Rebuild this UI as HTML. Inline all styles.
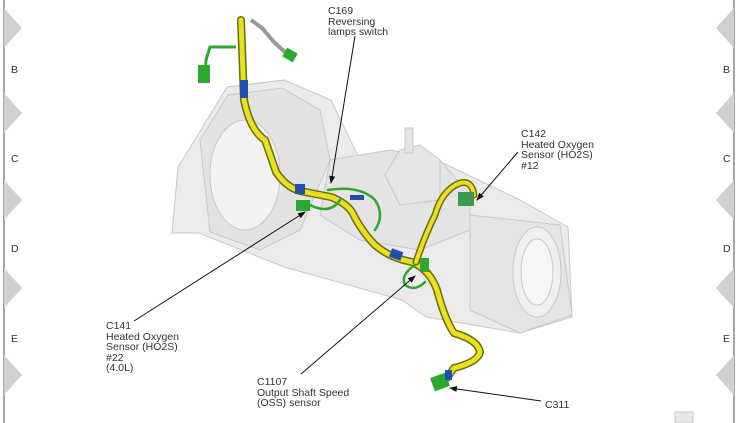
<!DOCTYPE html>
<html><head><meta charset="utf-8"><style>
html,body{margin:0;padding:0;background:#fff;}
svg{display:block;}
text{font-family:"Liberation Sans",Arial,sans-serif;font-size:10.5px;fill:#333;}
</style></head><body>
<svg width="738" height="423" viewBox="0 0 738 423" xmlns="http://www.w3.org/2000/svg">
<defs><marker id="a" markerWidth="8" markerHeight="6" refX="7" refY="3" orient="auto" markerUnits="userSpaceOnUse"><polygon points="0,0 8,3 0,6" fill="#111"/></marker></defs>
<rect width="738" height="423" fill="#fff"/>
<line x1="4" y1="0" x2="4" y2="423" stroke="#888" stroke-width="1.5"/>
<line x1="734" y1="0" x2="734" y2="423" stroke="#888" stroke-width="1.5"/>
<g fill="#d0d0d0">
<polygon points="4,8 22,28 4,48"/><polygon points="4,93 22,113 4,133"/><polygon points="4,180 22,200 4,220"/><polygon points="4,268 22,288 4,308"/><polygon points="4,355 22,375 4,395"/>
<polygon points="734,8 716,28 734,48"/><polygon points="734,93 716,113 734,133"/><polygon points="734,180 716,200 734,220"/><polygon points="734,268 716,288 734,308"/><polygon points="734,355 716,375 734,395"/>
</g>
<g style="font-size:11px"><text x="11" y="73">B</text><text x="11" y="162">C</text><text x="11" y="252">D</text><text x="11" y="342">E</text>
<text x="723" y="73">B</text><text x="723" y="162">C</text><text x="723" y="252">D</text><text x="723" y="342">E</text></g>
<!-- transmission -->
<g stroke="#c8c8c8" stroke-width="1">
<polygon points="199,133 227,87 284,80 331,100 360,160 416,150 520,200 568,227 572,317 520,333 426,317 402,300 284,267 199,233 172,233 178,167" fill="#ebebeb"/>
<polygon points="200,140 228,95 282,88 320,110 330,160 300,230 260,250 210,232" fill="#e2e2e2"/>
<ellipse cx="245" cy="175" rx="35" ry="55" fill="#f2f2f2"/>
<polygon points="330,160 390,150 440,160 470,195 470,230 420,250 360,240 320,215" fill="#e4e4e4"/>
<polygon points="400,150 420,145 440,160 440,200 400,205 385,175" fill="#e6e6e6"/>
<rect x="405" y="128" width="8" height="25" fill="#e4e4e4"/>
<polygon points="470,215 560,225 572,315 520,333 470,310" fill="#e5e5e5"/>
<ellipse cx="537" cy="272" rx="24" ry="45" fill="#efefef"/>
<ellipse cx="537" cy="272" rx="16" ry="33" fill="#f6f6f6"/>
<rect x="675" y="412" width="18" height="11" fill="#e6e6e6"/>
</g>
<!-- top wires -->
<polyline points="251,20 262,28 274,42 288,55" fill="none" stroke="#999" stroke-width="4"/>
<rect x="284" y="50" width="12" height="10" fill="#2fa82f" transform="rotate(30 290 55)"/>
<polyline points="236,47 210,47 206,60 205,75" fill="none" stroke="#2fa82f" stroke-width="3"/>
<rect x="198" y="65" width="12" height="18" fill="#2fa82f"/>
<!-- main harness -->
<g fill="none" stroke-linecap="round" stroke-linejoin="round">
<path d="M241,20 L244,100 Q250,130 265,140 Q272,160 276,172 Q288,190 305,192 L331,197 Q346,203 352,212 Q362,232 375,245 Q390,258 412,262 Q430,270 437,290 Q445,320 454,333 Q478,340 480,352 Q478,362 454,368 L447,378" stroke="#6b6b10" stroke-width="8"/>
<path d="M241,20 L244,100 Q250,130 265,140 Q272,160 276,172 Q288,190 305,192 L331,197 Q346,203 352,212 Q362,232 375,245 Q390,258 412,262 Q430,270 437,290 Q445,320 454,333 Q478,340 480,352 Q478,362 454,368 L447,378" stroke="#e8e020" stroke-width="5"/>
<path d="M416,262 Q425,235 435,215 Q442,190 460,183 Q472,180 474,195" stroke="#6b6b10" stroke-width="7"/>
<path d="M416,262 Q425,235 435,215 Q442,190 460,183 Q472,180 474,195" stroke="#e8e020" stroke-width="4"/>
<path d="M328,190 Q360,185 375,200 Q385,215 375,230" stroke="#2fa82f" stroke-width="2.5"/>
<path d="M310,205 Q330,215 340,200" stroke="#2fa82f" stroke-width="2.5"/>
<path d="M415,265 Q400,275 405,285 Q415,292 425,282" stroke="#2fa82f" stroke-width="2.5"/>
</g>
<rect x="240" y="80" width="8" height="18" fill="#1f4fb0"/>
<rect x="295" y="184" width="10" height="10" fill="#1f4fb0"/>
<rect x="390" y="250" width="12" height="9" fill="#1f4fb0" transform="rotate(20 396 255)"/>
<rect x="350" y="195" width="14" height="5" fill="#1f4fb0"/>
<rect x="296" y="200" width="14" height="11" fill="#2fa82f"/>
<rect x="420" y="258" width="9" height="14" fill="#2fa82f"/>
<rect x="458" y="192" width="16" height="14" fill="#3a9a50"/>
<rect x="432" y="375" width="16" height="14" fill="#2fa82f" transform="rotate(-20 440 382)"/>
<rect x="445" y="370" width="7" height="10" fill="#1f4fb0"/>
<!-- leaders -->
<g stroke="#111" stroke-width="1" fill="none" marker-end="url(#a)">
<line x1="355" y1="36" x2="331" y2="183"/>
<line x1="518" y1="152" x2="477" y2="200"/>
<line x1="134" y1="321" x2="305" y2="212"/>
<line x1="301" y1="374" x2="415" y2="276"/>
<line x1="541" y1="401" x2="450" y2="388"/>
</g>
<text x="328" y="14">C169</text><text x="328" y="25">Reversing</text><text x="328" y="35">lamps switch</text>
<text x="521" y="137">C142</text><text x="521" y="148">Heated Oxygen</text><text x="521" y="158">Sensor (HO2S)</text><text x="521" y="169">#12</text>
<text x="106" y="329">C141</text><text x="106" y="340">Heated Oxygen</text><text x="106" y="350">Sensor (HO2S)</text><text x="106" y="361">#22</text><text x="106" y="371">(4.0L)</text>
<text x="257" y="385">C1107</text><text x="257" y="396">Output Shaft Speed</text><text x="257" y="406">(OSS) sensor</text>
<text x="545" y="408">C311</text>
</svg>
</body></html>
